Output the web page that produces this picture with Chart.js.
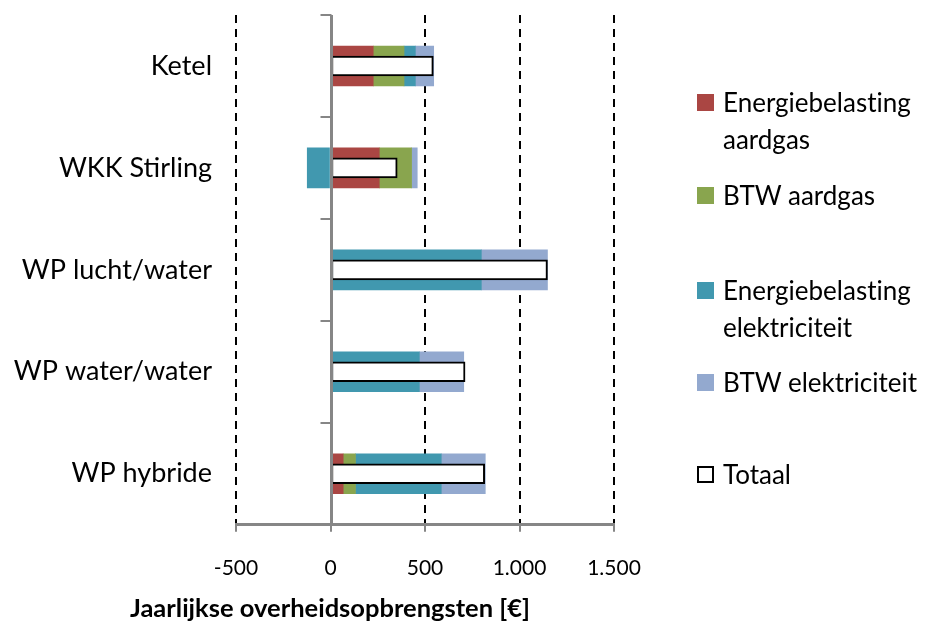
<!DOCTYPE html>
<html lang="nl">
<head>
<meta charset="utf-8">
<title>Jaarlijkse overheidsopbrengsten</title>
<script src="https://cdn.jsdelivr.net/npm/chart.js@4.4.1/dist/chart.umd.min.js"></script>
<style>
    html, body { margin: 0; padding: 0; background: #fff; }
    #wrap { position: relative; width: 927px; height: 623px; overflow: hidden; }
    #legenda { position: absolute; left: 697px; top: 0; font-family: Lato, sans-serif; font-size: 26px; color: #000; font-variant-ligatures: none; }
    .item { position: absolute; left: 0; width: 230px; line-height: 37px; }
    .box { position: absolute; left: 0; top: 10px; width: 17px; height: 17px; box-sizing: border-box; }
    .tekst { position: absolute; left: 26px; top: 0; width: 204px; }
</style>
</head>
<body>
<div id="wrap">
    <canvas id="opbrengstenChart" width="927" height="623"></canvas>
    <div id="legenda"></div>
</div>
<script>
const categorieen = ['Ketel', 'WKK Stirling', 'WP lucht/water', 'WP water/water', 'WP hybride'];

const energiebelastingAardgas = [226, 258, 0, 0, 67];
const btwAardgas = [163, 171, 0, 0, 65];
const energiebelastingElektriciteit = [60, -123, 798, 470, 454];
const btwElektriciteit = [97, 30, 350, 235, 233];
const totaal = [544, 353, 1148, 712, 816];

const xMin = -500;
const xMax = 1500;
const xStap = 500;

function formatGetal(v) {
    return String(v).replace(/\B(?=(\d{3})+(?!\d))/g, '.');
}

const grijs = '#868686';

const series = [
    { label: 'Energiebelasting aardgas', data: energiebelastingAardgas, kleur: '#AA4643' },
    { label: 'BTW aardgas', data: btwAardgas, kleur: '#89A54E' },
    { label: 'Energiebelasting elektriciteit', data: energiebelastingElektriciteit, kleur: '#4198AF' },
    { label: 'BTW elektriciteit', data: btwElektriciteit, kleur: '#93A9CF' }
];

const datasets = series.map(s => ({
    label: s.label,
    data: s.data,
    backgroundColor: s.kleur,
    borderWidth: 0,
    barThickness: 40,
    grouped: false,
    stack: 'onderdelen',
    order: 1
}));

// totaal ligt als smalle witte balk over de gestapelde balk heen
datasets.push({
    label: 'Totaal',
    data: totaal,
    backgroundColor: '#ffffff',
    borderColor: '#000000',
    borderWidth: 2,
    borderSkipped: false,
    barThickness: 20,
    grouped: false,
    stack: 'totaal',
    order: 0
});

// grijze verticale as bij 0 met streepjes tussen de categorieen
const nulAs = {
    id: 'nulAs',
    afterDatasetsDraw(chart) {
        const { ctx, chartArea, scales } = chart;
        const px = Math.round(scales.x.getPixelForValue(0)) + 0.5;
        ctx.save();
        ctx.strokeStyle = grijs;
        ctx.lineWidth = 3;
        ctx.beginPath();
        ctx.moveTo(px, chartArea.top);
        ctx.lineTo(px, chartArea.bottom);
        ctx.stroke();
        ctx.lineWidth = 2;
        for (let i = 0; i <= categorieen.length; i++) {
            const py = Math.round(scales.y.getPixelForValue(i - 0.5));
            ctx.beginPath();
            ctx.moveTo(px - 11, py);
            ctx.lineTo(px, py);
            ctx.stroke();
        }
        ctx.restore();
    }
};

const ctx = document.getElementById('opbrengstenChart').getContext('2d');
const opbrengstenChart = new Chart(ctx, {
    type: 'bar',
    data: {
        labels: categorieen,
        datasets: datasets
    },
    plugins: [nulAs],
    options: {
        indexAxis: 'y',
        responsive: false,
        animation: false,
        layout: {
            padding: { left: 0, right: 267, top: 15, bottom: 0 }
        },
        plugins: {
            legend: { display: false },
            tooltip: { enabled: false },
            title: {
                display: true,
                position: 'bottom',
                text: 'Jaarlijkse overheidsopbrengsten [€]',
                color: '#000',
                font: { family: 'Lato', size: 25.5, weight: 'bold', lineHeight: 1.15 },
                padding: { top: 0, bottom: 0 }
            }
        },
        scales: {
            x: {
                type: 'linear',
                stacked: true,
                min: xMin,
                max: xMax,
                ticks: {
                    stepSize: xStap,
                    padding: 24,
                    color: '#000',
                    font: { family: 'Lato', size: 21 },
                    callback: v => formatGetal(v)
                },
                grid: {
                    color: c => (c.tick && c.tick.value === 0) ? 'rgba(0,0,0,0)' : '#000',
                    lineWidth: 2,
                    drawTicks: true,
                    tickLength: 7,
                    tickColor: grijs,
                    tickWidth: 2
                },
                border: {
                    color: grijs,
                    width: 3,
                    dash: c => c.type === 'tick' ? [8, 6] : []
                },
                afterFit: scale => {
                    scale.height = 69;
                    scale.paddingLeft = 0;
                    scale.paddingRight = 0;
                }
            },
            y: {
                type: 'category',
                position: 'left',
                offset: true,
                grid: { display: false, drawTicks: false, offset: true },
                border: { display: false },
                ticks: {
                    padding: 24,
                    color: '#000',
                    font: { family: 'Lato', size: 27 }
                },
                afterFit: scale => {
                    scale.width = 236;
                    scale.paddingTop = 0;
                    scale.paddingBottom = 0;
                }
            },
            // lege ruimte rechts, zodat de titel onder de hele figuur gecentreerd staat
            yr: {
                type: 'category',
                position: 'right',
                grid: { display: false, drawTicks: false },
                border: { display: false },
                ticks: { display: false },
                afterFit: scale => { scale.width = 46; }
            }
        }
    }
});

// legenda rechts, zoals in het origineel
const legendaTop = [84, 177, 272, 364, 456];
const legenda = document.getElementById('legenda');
opbrengstenChart.data.datasets.forEach((ds, i) => {
    const item = document.createElement('div');
    item.className = 'item';
    item.style.top = legendaTop[i] + 'px';
    const box = document.createElement('div');
    box.className = 'box';
    if (ds.label === 'Totaal') {
        box.style.background = '#fff';
        box.style.border = '2px solid #000';
    } else {
        box.style.background = ds.backgroundColor;
    }
    const tekst = document.createElement('div');
    tekst.className = 'tekst';
    tekst.textContent = ds.label;
    item.appendChild(box);
    item.appendChild(tekst);
    legenda.appendChild(item);
});
</script>
</body>
</html>
